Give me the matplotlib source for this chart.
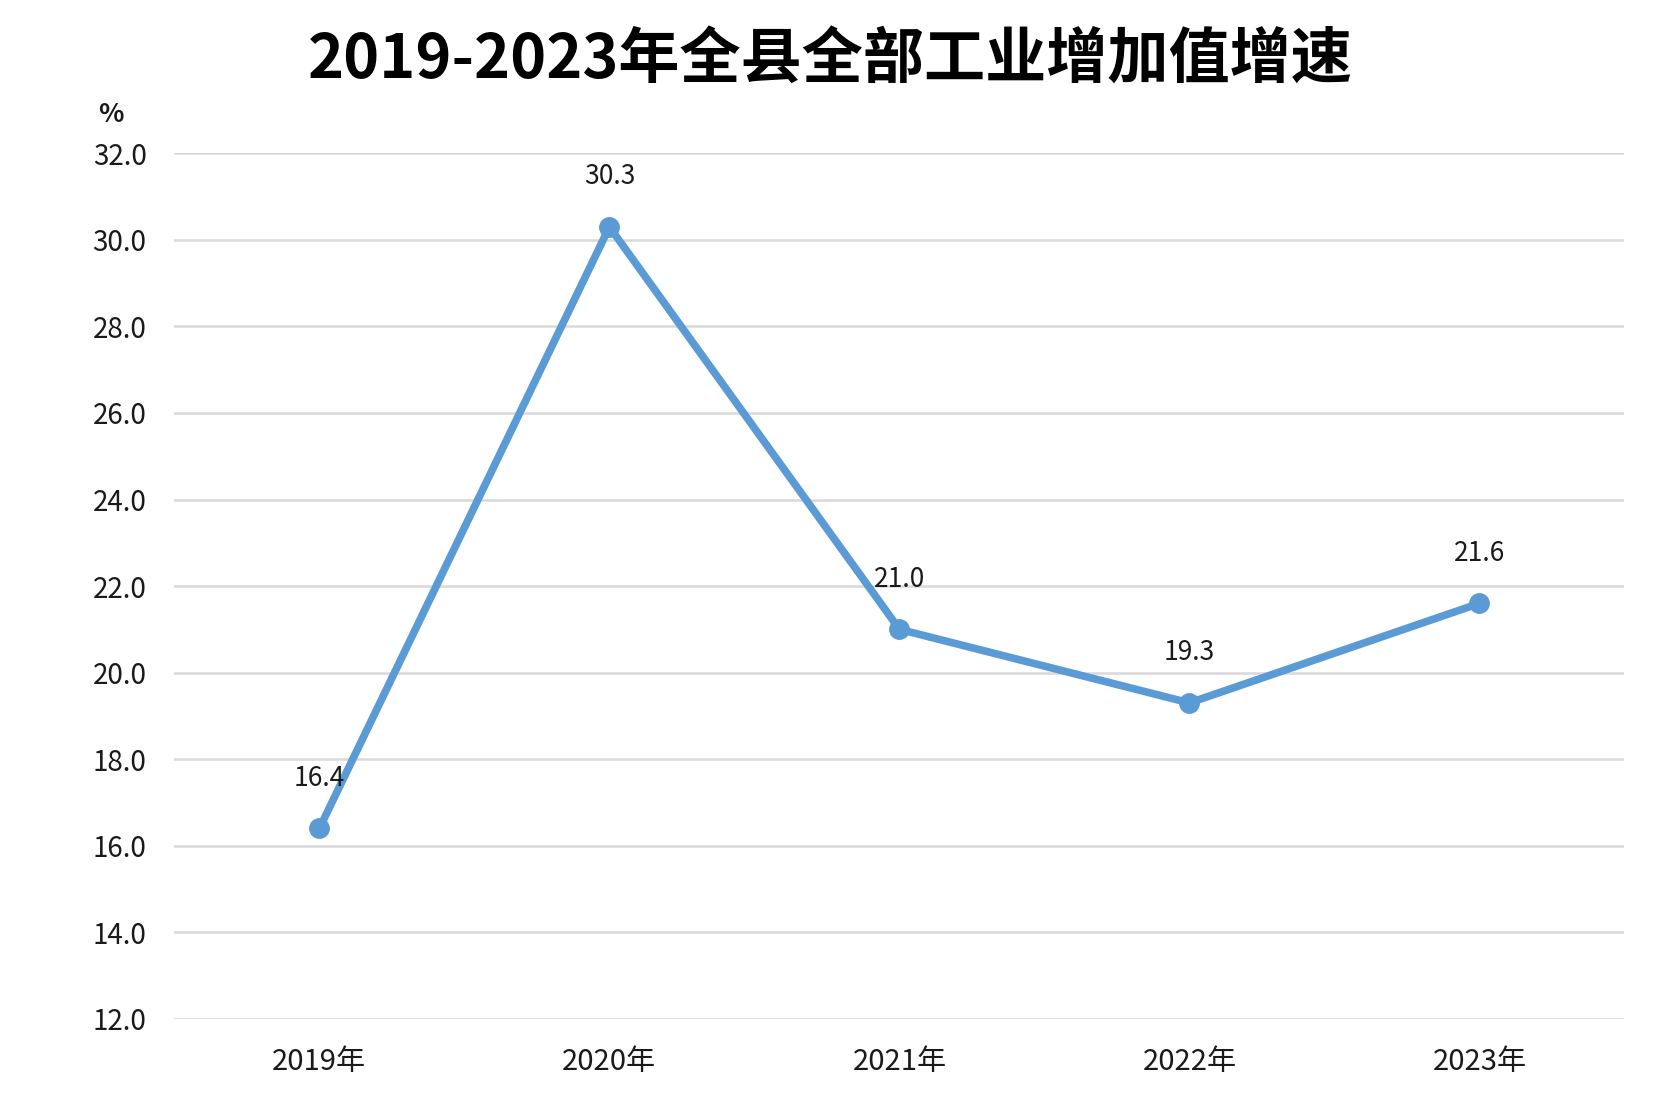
import matplotlib
matplotlib.use("Agg")
import matplotlib.pyplot as plt

plt.rcParams['font.family'] = ['Noto Sans CJK SC', 'DejaVu Sans']

years = ["2019年", "2020年", "2021年", "2022年", "2023年"]
growth = [16.4, 30.3, 21.0, 19.3, 21.6]
yticks = [12.0, 14.0, 16.0, 18.0, 20.0, 22.0, 24.0, 26.0, 28.0, 30.0, 32.0]
title = "2019-2023年全县全部工业增加值增速"
unit = "%"

fig = plt.figure(figsize=(16.61, 11.11), dpi=100)
ax = fig.add_axes([0.105, 0.083, 0.873, 0.779])

x = list(range(len(years)))
ax.plot(x, growth, color='#5B9BD5', lw=5.5, marker='o', ms=14,
        solid_capstyle='round', solid_joinstyle='round', zorder=3)
for xi, v in zip(x, growth):
    ax.annotate(f"{v:.1f}", (xi, v), xytext=(0, 36), textcoords='offset points',
                ha='center', va='center', fontsize=19, color='#1a1a1a', zorder=4)

ax.set_xlim(-0.5, len(years) - 0.5)
ax.set_ylim(yticks[0], yticks[-1])
ax.set_yticks(yticks)
ax.set_yticklabels([f"{t:.1f}" for t in yticks])
ax.set_xticks(x)
ax.set_xticklabels(years)
ax.grid(axis='y', color='#D9D9D9', lw=1.8)
ax.set_axisbelow(True)
for s in ax.spines.values():
    s.set_visible(False)
ax.tick_params(axis='both', length=0, labelsize=20, colors='#1a1a1a')
ax.tick_params(axis='x', labelsize=21, pad=20)
ax.tick_params(axis='y', pad=20)

fig.text(0.067, 0.897, unit, fontsize=19, fontweight='bold', color='#1a1a1a',
         ha='center', va='center')
fig.text(0.5, 0.945, title, fontsize=44, fontweight='bold', color='black',
         ha='center', va='center')

fig.savefig("out.png", dpi=100, facecolor='white')
